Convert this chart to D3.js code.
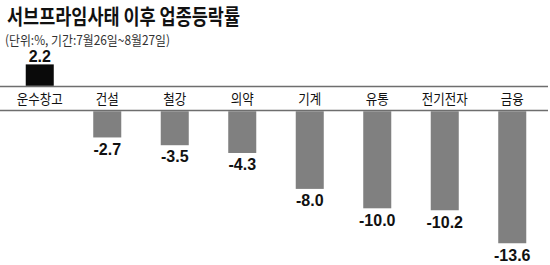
<!DOCTYPE html>
<html><head><meta charset="utf-8">
<script src="https://cdn.jsdelivr.net/npm/d3@7"></script>
<style>body{margin:0;background:#fff}svg{display:block}</style>
</head><body>
<script>
const categories = ["운수창고","건설","철강","의약","기계","유통","전기전자","금융"];
const values = [2.2,-2.7,-3.5,-4.3,-8.0,-10.0,-10.2,-13.6];
const valueLabels = ["2.2","-2.7","-3.5","-4.3","-8.0","-10.0","-10.2","-13.6"];
const title = "서브프라임사태 이후 업종등락률";
const subtitle = "(단위:%, 기간:7월26일~8월27일)";

const W = 550, H = 265;
const svg = d3.select("body").append("svg").attr("width", W).attr("height", H);

const lineTop = 86.5, lineBot = 110.5;
const x = d3.scaleBand().domain(categories).range([6, 546]).paddingInner(0.585).paddingOuter(0.2925);
const h = d3.scaleLinear().domain([0, 13.6]).range([0, 132]);

svg.append("text").attr("x", 7).attr("y", 24)
  .attr("font-family", "Noto Sans CJK KR").attr("font-weight", 700).attr("font-size", 21)
  .attr("fill", "#111").attr("textLength", 233).attr("lengthAdjust", "spacingAndGlyphs").text(title);
svg.append("text").attr("x", 5).attr("y", 45)
  .attr("font-family", "Noto Sans CJK KR").attr("font-size", 13)
  .attr("fill", "#333").attr("textLength", 165).attr("lengthAdjust", "spacingAndGlyphs").text(subtitle);

// lines
[lineTop, lineBot].forEach(y => svg.append("line").attr("x1", 0).attr("x2", 548)
  .attr("y1", y).attr("y2", y).attr("stroke", "#6e6e6e").attr("stroke-width", 1.5));

const data = categories.map((c, i) => ({c, v: values[i], l: valueLabels[i]}));

svg.selectAll("rect.bar").data(data).join("rect").attr("class", "bar")
  .attr("x", d => x(d.c)).attr("width", x.bandwidth())
  .attr("y", d => d.v >= 0 ? lineTop - 0.75 - h(d.v) : lineBot + 0.75)
  .attr("height", d => h(Math.abs(d.v)))
  .attr("fill", d => d.v >= 0 ? "#0a0a0a" : "#808080");

svg.selectAll("text.cat").data(data).join("text").attr("class", "cat")
  .attr("x", d => x(d.c) + x.bandwidth() / 2).attr("y", 104)
  .attr("text-anchor", "middle").attr("font-family", "Noto Sans CJK KR").attr("font-size", 14)
  .attr("fill", "#111")
  .attr("textLength", d => d.c.length * 11.5).attr("lengthAdjust", "spacingAndGlyphs")
  .text(d => d.c);

svg.selectAll("text.val").data(data).join("text").attr("class", "val")
  .attr("x", d => x(d.c) + x.bandwidth() / 2)
  .attr("y", d => d.v >= 0 ? lineTop - h(d.v) - 3 : lineBot + h(Math.abs(d.v)) + 18)
  .attr("text-anchor", "middle").attr("font-family", "Liberation Sans Narrow, Arial Narrow, Liberation Sans")
  .attr("font-weight", 700).attr("font-size", 16).attr("fill", "#111")
  .text(d => d.l);
</script>
</body></html>
